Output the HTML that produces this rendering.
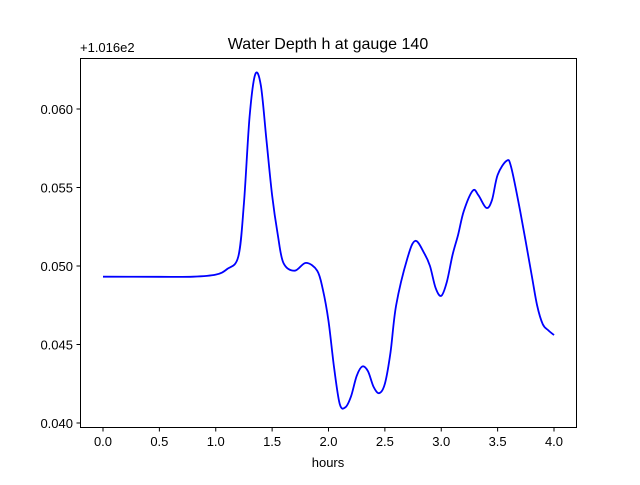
<!DOCTYPE html>
<html><head><meta charset="utf-8"><style>
body{margin:0;background:#fff}
svg text{font-family:"Liberation Sans","DejaVu Sans",sans-serif;fill:#000}
</style></head><body>
<svg id="chart" width="640" height="480">
<rect width="640" height="480" fill="#fff"/>
<text x="328" y="49" font-size="16" text-anchor="middle">Water Depth h at gauge 140</text>
<text x="80" y="52" font-size="13">+1.016e2</text>
<text x="328" y="467" font-size="13" text-anchor="middle">hours</text>
<g id="ticks"></g>
<path id="line" fill="none" stroke="#0000ff" stroke-width="1.8"/>
<rect x="80.5" y="58.5" width="496" height="369" fill="none" stroke="#000" stroke-width="1"/>
</svg>
<script>
const xTicks=[0,0.5,1.0,1.5,2.0,2.5,3.0,3.5,4.0];
const xTickLabels=["0.0","0.5","1.0","1.5","2.0","2.5","3.0","3.5","4.0"];
const yTicks=[0.040,0.045,0.050,0.055,0.060];
const yTickLabels=["0.040","0.045","0.050","0.055","0.060"];
const hours=[0,0.5,0.8,1.0,1.1,1.2,1.25,1.3,1.35,1.4,1.45,1.5,1.55,1.6,1.7,1.8,1.9,1.95,2.0,2.05,2.1,2.15,2.2,2.25,2.3,2.35,2.4,2.45,2.5,2.55,2.6,2.7,2.77,2.85,2.9,2.95,3.0,3.05,3.1,3.15,3.2,3.28,3.33,3.4,3.45,3.5,3.58,3.62,3.7,3.8,3.85,3.9,3.95,4.0];
const depth=[0.04932,0.04931,0.04932,0.04945,0.0498,0.0506,0.054,0.0595,0.0622,0.0615,0.058,0.0545,0.052,0.0502,0.0497,0.0502,0.0497,0.0485,0.0465,0.0435,0.0412,0.041,0.0417,0.043,0.0436,0.0433,0.0423,0.0419,0.0425,0.0445,0.0475,0.0505,0.0516,0.0508,0.05,0.0486,0.0481,0.049,0.0507,0.052,0.0535,0.0548,0.0545,0.0537,0.0542,0.0558,0.0567,0.0563,0.0535,0.0495,0.0475,0.0463,0.0459,0.0456];
const X=v=>103+v*112.75;
const Y=v=>423-(v-0.040)*15700;
const NS="http://www.w3.org/2000/svg";
const g=document.getElementById('ticks');
function mk(t,a){const e=document.createElementNS(NS,t);for(const k in a)e.setAttribute(k,a[k]);g.appendChild(e);return e;}
xTicks.forEach((v,i)=>{
 const l=mk('line',{x1:X(v),x2:X(v),y1:427.5,y2:431.5,stroke:'#000'});
 
 
 const t=mk('text',{x:X(v),y:446,'font-size':13,'text-anchor':'middle'});t.textContent=xTickLabels[i];
 
 
});
yTicks.forEach((v,i)=>{
 const l=mk('line',{x1:76.5,x2:80.5,y1:Y(v),y2:Y(v),stroke:'#000'});
 
 
 const t=mk('text',{x:73,y:Y(v)+5,'font-size':13,'text-anchor':'end'});t.textContent=yTickLabels[i];
 
 
});
// Catmull-Rom smoothing
const P=hours.map((h,i)=>[X(h),Y(depth[i])]);
let d='M'+P[0][0]+','+P[0][1];
for(let i=0;i<P.length-1;i++){
 const p0=P[i-1]||P[i],p1=P[i],p2=P[i+1],p3=P[i+2]||P[i+1];
 const c1=[p1[0]+(p2[0]-p0[0])/6,p1[1]+(p2[1]-p0[1])/6];
 const c2=[p2[0]-(p3[0]-p1[0])/6,p2[1]-(p3[1]-p1[1])/6];
 d+=` C${c1[0]},${c1[1]} ${c2[0]},${c2[1]} ${p2[0]},${p2[1]}`;
}
document.getElementById('line').setAttribute('d',d);
</script>
</body></html>
